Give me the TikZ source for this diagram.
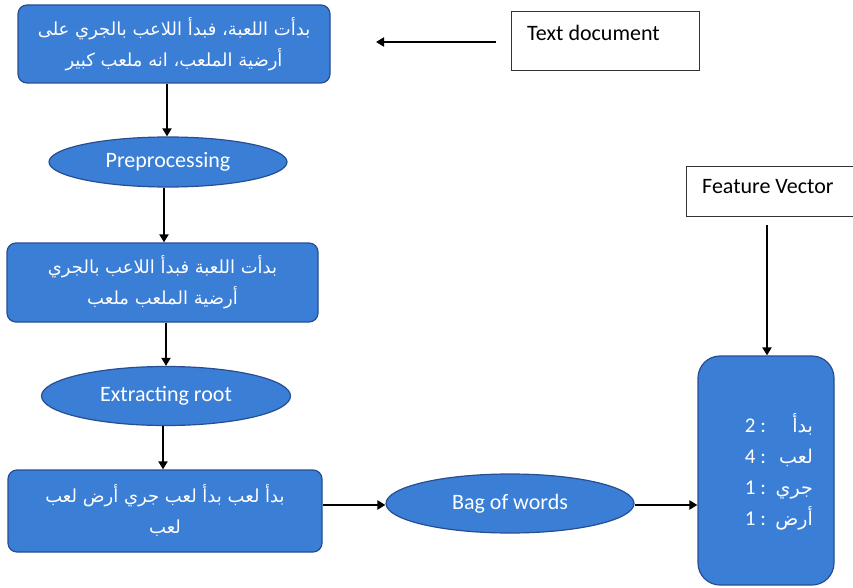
\documentclass[tikz,border=0pt]{standalone}
\usepackage{fontspec}
\setmainfont{Carlito}
\newfontfamily\arabicfont[Script=Arabic]{DejaVu Sans}
\TeXXeTstate=1
\usetikzlibrary{shapes.geometric,arrows.meta}
\definecolor{boxfill}{RGB}{58,126,214}
\definecolor{boxline}{RGB}{38,78,145}
\tikzset{
  bluebox/.style={draw=boxline, line width=1.2pt, fill=boxfill, rounded corners=9pt, text=white, align=center, inner sep=0pt},
  blueell/.style={ellipse, draw=boxline, line width=1.2pt, fill=boxfill, text=white, inner sep=0pt, font=\fontsize{22}{26}\selectfont},
  plainbox/.style={draw=black!80, line width=0.8pt, fill=white, inner sep=0pt},
  arr/.style={line width=2.3pt, -{Triangle[length=8pt,width=9pt]}},
  ar/.style={font=\arabicfont\fontsize{18}{31}\selectfont},
}
\begin{document}
\begin{tikzpicture}[x=1pt,y=-1pt]
\useasboundingbox (0,0) rectangle (853,588);
% top box
\node[bluebox, ar, minimum width=312pt, minimum height=78pt] (top) at (174,44)
  {\beginR بدأت اللعبة، فبدأ اللاعب بالجري على\endR\\ \beginR أرضية الملعب، انه ملعب كبير\endR};
% text document
\node[plainbox, minimum width=188pt, minimum height=59pt] (doc) at (605,40.5) {};
\node[anchor=west, font=\fontsize{22}{26}\selectfont, inner sep=0pt] (doct) at (527,33) {Text document};
\coordinate (docarr) at (496,42);
\draw[arr] (docarr) -- (376,42);
% preprocessing
\node[blueell, minimum width=238pt, minimum height=50pt] (pre) at (168,162) {Preprocessing};
% box 2
\node[bluebox, ar, minimum width=311pt, minimum height=79pt] (b2) at (162.5,282.5)
  {\beginR بدأت اللعبة فبدأ اللاعب بالجري\endR\\ \beginR أرضية الملعب ملعب\endR};
% extracting root
\node[blueell, minimum width=249pt, minimum height=59pt] (ext) at (166,396) {Extracting root};
% box 3
\node[bluebox, ar, minimum width=314pt, minimum height=82pt] (b3) at (165,511)
  {\beginR بدأ لعب بدأ لعب جري أرض لعب\endR\\ \beginR لعب\endR};
% bag of words
\node[blueell, minimum width=248pt, minimum height=59pt] (bag) at (510,503.5) {Bag of words};
% feature box
\node[bluebox, rounded corners=22pt, minimum width=136pt, minimum height=229pt] (fb) at (766,470.5) {};
\node[text=white, anchor=east, font=\fontsize{21}{31}\selectfont, inner sep=0pt] (fbt) at (813,473)
  {\begin{tabular}{@{}l@{\ :\ \ }r@{}}
   2 & \arabicfont\fontsize{19}{31}\selectfont\beginR بدأ\endR\\
   4 & \arabicfont\fontsize{19}{31}\selectfont\beginR لعب\endR\\
   1 & \arabicfont\fontsize{19}{31}\selectfont\beginR جري\endR\\
   1 & \arabicfont\fontsize{19}{31}\selectfont\beginR أرض\endR
   \end{tabular}};
% feature vector
\node[plainbox, minimum width=167pt, minimum height=50pt, anchor=west] (fv) at (686,191) {};
\node[anchor=west, font=\fontsize{22}{26}\selectfont, inner sep=0pt] (fvt) at (702,187) {Feature Vector};
% arrows
\draw[arr] (top.south -| 167,0) -- (pre.north -| 167,0);
\draw[arr] (pre.south -| 164,0) -- (b2.north -| 164,0);
\draw[arr] (b2.south -| 166,0) -- (ext.north -| 166,0);
\draw[arr] (ext.south -| 163,0) -- (b3.north -| 163,0);
\draw[arr] (b3.east |- 0,505) -- (bag.west |- 0,505);
\draw[arr] (bag.east |- 0,505) -- (fb.west |- 0,505);
\draw[arr] (fv.south -| 767,0) ++(0,9) -- (fb.north -| 767,0);
\end{tikzpicture}
\end{document}
